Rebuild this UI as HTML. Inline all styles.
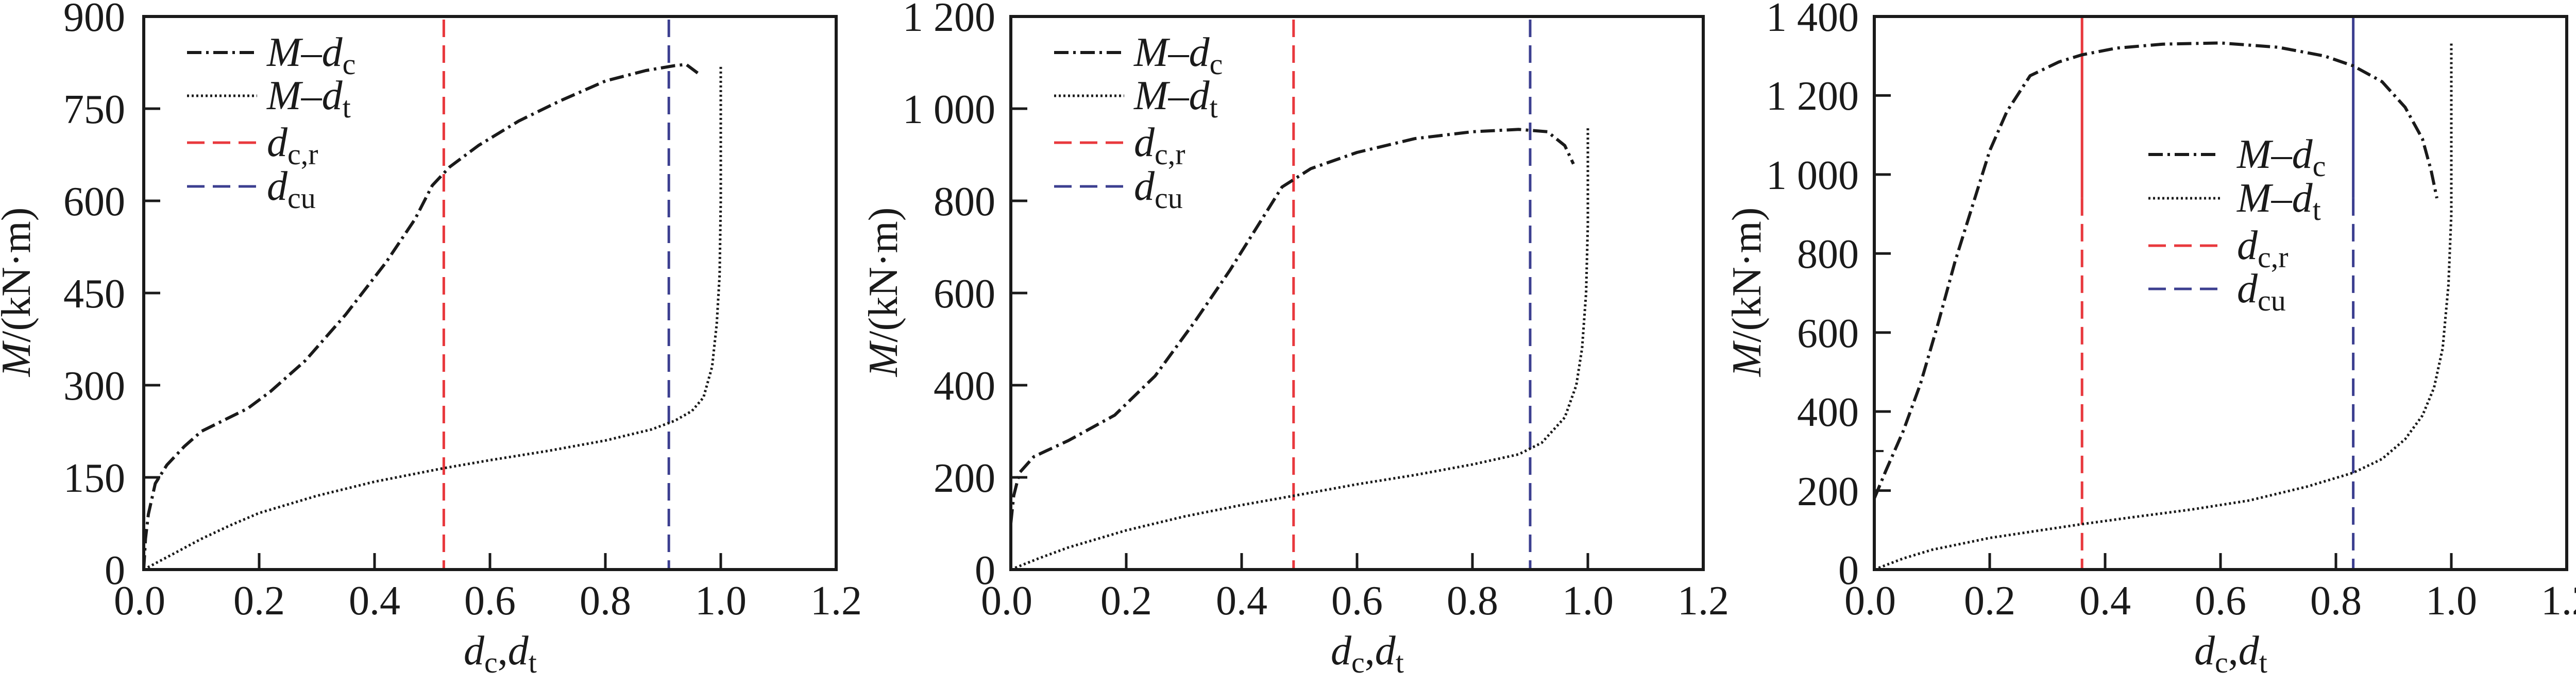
<!DOCTYPE html>
<html><head><meta charset="utf-8"><style>
html,body{margin:0;padding:0;background:#fff;}
svg{display:block;}
svg text{font-family:"Liberation Serif","DejaVu Serif","Noto Serif CJK SC",serif;}
</style></head><body>
<svg id="s" width="5038" height="1336" viewBox="0 0 5038 1336" xmlns="http://www.w3.org/2000/svg" font-family="Liberation Serif, DejaVu Serif, Noto Serif CJK SC, serif" fill="#1a1a1a">
<!-- Panel 1 -->
<g id="p0">
<g font-size="80" text-anchor="middle">
<text x="271" y="1193">0.0</text><text x="503" y="1193">0.2</text><text x="727" y="1193">0.4</text><text x="951" y="1193">0.6</text><text x="1175" y="1193">0.8</text><text x="1399" y="1193">1.0</text><text x="1623" y="1193">1.2</text>
</g>
<g font-size="80" text-anchor="end">
<text x="243" y="1134">0</text><text x="243" y="955">150</text><text x="243" y="776">300</text><text x="243" y="597">450</text><text x="243" y="418">600</text><text x="243" y="239">750</text><text x="243" y="60">900</text>
</g>
<text font-size="80" text-anchor="middle" transform="translate(58,567) rotate(-90)"><tspan font-style="italic">M</tspan>/(kN·m)</text>
<text font-size="80" x="900" y="1290"><tspan font-style="italic">d</tspan><tspan font-size="58" dy="16">c</tspan><tspan dy="-16">,</tspan><tspan font-style="italic">d</tspan><tspan font-size="58" dy="16">t</tspan></text>
<g font-size="80">
<text x="518" y="128"><tspan font-style="italic">M</tspan>–<tspan font-style="italic">d</tspan><tspan font-size="58" dy="16">c</tspan></text>
<text x="518" y="212"><tspan font-style="italic">M</tspan>–<tspan font-style="italic">d</tspan><tspan font-size="58" dy="16">t</tspan></text>
<text x="518" y="303"><tspan font-style="italic">d</tspan><tspan font-size="58" dy="16">c,r</tspan></text>
<text x="518" y="388"><tspan font-style="italic">d</tspan><tspan font-size="58" dy="16">cu</tspan></text>
</g>
</g>
<!-- Panel 2 -->
<g id="p1" transform="translate(1683,0)">
<g font-size="80" text-anchor="middle">
<text x="271" y="1193">0.0</text><text x="503" y="1193">0.2</text><text x="727" y="1193">0.4</text><text x="951" y="1193">0.6</text><text x="1175" y="1193">0.8</text><text x="1399" y="1193">1.0</text><text x="1623" y="1193">1.2</text>
</g>
<g font-size="80" text-anchor="end">
<text x="249" y="1134">0</text><text x="249" y="955">200</text><text x="249" y="776">400</text><text x="249" y="597">600</text><text x="249" y="418">800</text><text x="249" y="239">1 000</text><text x="249" y="60">1 200</text>
</g>
<text font-size="80" text-anchor="middle" transform="translate(58,567) rotate(-90)"><tspan font-style="italic">M</tspan>/(kN·m)</text>
<text font-size="80" x="900" y="1290"><tspan font-style="italic">d</tspan><tspan font-size="58" dy="16">c</tspan><tspan dy="-16">,</tspan><tspan font-style="italic">d</tspan><tspan font-size="58" dy="16">t</tspan></text>
<g font-size="80">
<text x="518" y="128"><tspan font-style="italic">M</tspan>–<tspan font-style="italic">d</tspan><tspan font-size="58" dy="16">c</tspan></text>
<text x="518" y="212"><tspan font-style="italic">M</tspan>–<tspan font-style="italic">d</tspan><tspan font-size="58" dy="16">t</tspan></text>
<text x="518" y="303"><tspan font-style="italic">d</tspan><tspan font-size="58" dy="16">c,r</tspan></text>
<text x="518" y="388"><tspan font-style="italic">d</tspan><tspan font-size="58" dy="16">cu</tspan></text>
</g>
</g>
<!-- Panel 3 -->
<g id="p2" transform="translate(3359,0)">
<g font-size="80" text-anchor="middle">
<text x="271" y="1193">0.0</text><text x="503" y="1193">0.2</text><text x="727" y="1193">0.4</text><text x="951" y="1193">0.6</text><text x="1175" y="1193">0.8</text><text x="1399" y="1193">1.0</text><text x="1623" y="1193">1.2</text>
</g>
<g font-size="80" text-anchor="end">
<text x="249" y="1134">0</text><text x="249" y="981">200</text><text x="249" y="827">400</text><text x="249" y="674">600</text><text x="249" y="520">800</text><text x="249" y="367">1 000</text><text x="249" y="213">1 200</text><text x="249" y="60">1 400</text>
</g>
<text font-size="80" text-anchor="middle" transform="translate(58,567) rotate(-90)"><tspan font-style="italic">M</tspan>/(kN·m)</text>
<text font-size="80" x="900" y="1290"><tspan font-style="italic">d</tspan><tspan font-size="58" dy="16">c</tspan><tspan dy="-16">,</tspan><tspan font-style="italic">d</tspan><tspan font-size="58" dy="16">t</tspan></text>
<g font-size="80">
<text x="983" y="326"><tspan font-style="italic">M</tspan>–<tspan font-style="italic">d</tspan><tspan font-size="58" dy="16">c</tspan></text>
<text x="983" y="411"><tspan font-style="italic">M</tspan>–<tspan font-style="italic">d</tspan><tspan font-size="58" dy="16">t</tspan></text>
<text x="983" y="503"><tspan font-style="italic">d</tspan><tspan font-size="58" dy="16">c,r</tspan></text>
<text x="983" y="587"><tspan font-style="italic">d</tspan><tspan font-size="58" dy="16">cu</tspan></text>
</g>
</g>
</svg>
<script>
var NS="http://www.w3.org/2000/svg";
var X0=279,W=1344,Y0=1106,H=1074;
function el(g,n,a){var e=document.createElementNS(NS,n);for(var k in a)e.setAttribute(k,a[k]);g.appendChild(e);return e;}
var P=[
{ymax:900,yt:[150,300,450,600,750],red:0.52,blue:0.91,leg:[363,499,[102,186,277,362]],solidTop:null,
dc:[[0,0],[0.003,50],[0.008,90],[0.02,140],[0.04,170],[0.07,200],[0.1,225],[0.18,262],[0.22,290],[0.28,340],[0.35,415],[0.42,500],[0.47,570],[0.5,625],[0.53,655],[0.58,690],[0.65,730],[0.72,762],[0.8,795],[0.87,812],[0.92,820],[0.94,822],[0.96,808]],
dt:[[0,0],[0.05,25],[0.1,50],[0.15,72],[0.2,92],[0.3,120],[0.4,143],[0.52,165],[0.6,178],[0.7,193],[0.8,210],[0.88,228],[0.92,242],[0.95,258],[0.97,280],[0.985,330],[0.993,400],[0.998,480],[1.0,600],[1.0,820]]},
{ymax:1200,yt:[200,400,600,800,1000],red:0.49,blue:0.90,leg:[363,499,[102,186,277,362]],solidTop:null,
dc:[[0,100],[0.005,160],[0.015,210],[0.04,245],[0.1,280],[0.18,335],[0.25,420],[0.32,540],[0.38,650],[0.43,750],[0.47,830],[0.52,870],[0.6,905],[0.7,935],[0.8,950],[0.88,955],[0.93,950],[0.96,920],[0.975,880]],
dt:[[0,0],[0.05,25],[0.1,48],[0.2,85],[0.3,115],[0.4,140],[0.49,160],[0.6,185],[0.7,205],[0.8,228],[0.88,250],[0.92,275],[0.96,330],[0.98,400],[0.99,480],[0.997,600],[1.0,750],[1.0,960]]},
{ymax:1400,yt:[200,400,600,800,1000,1200],red:0.36,blue:0.83,leg:[811,950,[300,385,477,561]],solidTop:940,
dc:[[0,180],[0.02,250],[0.05,350],[0.08,470],[0.11,620],[0.14,780],[0.17,920],[0.2,1060],[0.23,1160],[0.27,1250],[0.32,1285],[0.36,1303],[0.42,1320],[0.5,1330],[0.6,1333],[0.7,1322],[0.78,1300],[0.83,1275],[0.88,1235],[0.92,1170],[0.95,1090],[0.965,1010],[0.975,940]],
dt:[[0,0],[0.05,28],[0.1,50],[0.2,80],[0.3,102],[0.36,115],[0.45,133],[0.55,152],[0.65,175],[0.75,210],[0.83,245],[0.88,280],[0.92,330],[0.95,390],[0.97,460],[0.985,560],[0.995,720],[1.0,900],[1.0,1335]]}
];
P.forEach(function(p,i){
 var g=document.getElementById("p"+i);
 function px(x){return X0+x*W/1.2;} function py(y){return Y0-y*H/p.ymax;}
 [0.2,0.4,0.6,0.8,1.0].forEach(function(t){el(g,"line",{x1:px(t),x2:px(t),y1:Y0,y2:Y0-32,stroke:"#1a1a1a","stroke-width":5});});
 p.yt.forEach(function(t){el(g,"line",{x1:X0,x2:X0+32,y1:py(t),y2:py(t),stroke:"#1a1a1a","stroke-width":5});});
 [[p.red,"#e8383d"],[p.blue,"#3c3f90"]].forEach(function(v){
   var x=px(v[0]);
   if(p.solidTop){el(g,"line",{x1:x,x2:x,y1:32,y2:py(p.solidTop),stroke:v[1],"stroke-width":5});
     el(g,"line",{x1:x,x2:x,y1:py(p.solidTop),y2:Y0,stroke:v[1],"stroke-width":5,"stroke-dasharray":"34 16"});}
   else el(g,"line",{x1:x,x2:x,y1:38,y2:Y0,stroke:v[1],"stroke-width":5,"stroke-dasharray":"34 16"});
 });
 function path(pts){return "M"+pts.map(function(q){return px(q[0]).toFixed(1)+","+py(q[1]).toFixed(1);}).join("L");}
 el(g,"path",{d:path(p.dc),fill:"none",stroke:"#1a1a1a","stroke-width":6,"stroke-dasharray":"28 9 5 9","stroke-linejoin":"round"});
 el(g,"path",{d:path(p.dt),fill:"none",stroke:"#1a1a1a","stroke-width":5,"stroke-dasharray":"4 5"});
 if(i==2) el(g,"line",{x1:X0+2,x2:X0+18,y1:py(300),y2:py(300),stroke:"#1a1a1a","stroke-width":4});
 var l=p.leg;
 el(g,"line",{x1:l[0],x2:l[1],y1:l[2][0],y2:l[2][0],stroke:"#1a1a1a","stroke-width":6,"stroke-dasharray":"28 9 5 9"});
 el(g,"line",{x1:l[0],x2:l[1],y1:l[2][1],y2:l[2][1],stroke:"#1a1a1a","stroke-width":5,"stroke-dasharray":"4 5"});
 el(g,"line",{x1:l[0],x2:l[1],y1:l[2][2],y2:l[2][2],stroke:"#e8383d","stroke-width":5,"stroke-dasharray":"34 16"});
 el(g,"line",{x1:l[0],x2:l[1],y1:l[2][3],y2:l[2][3],stroke:"#3c3f90","stroke-width":5,"stroke-dasharray":"34 16"});
 el(g,"rect",{x:X0,y:32,width:W,height:H,fill:"none",stroke:"#1a1a1a","stroke-width":6});
});
</script>
</body></html>
